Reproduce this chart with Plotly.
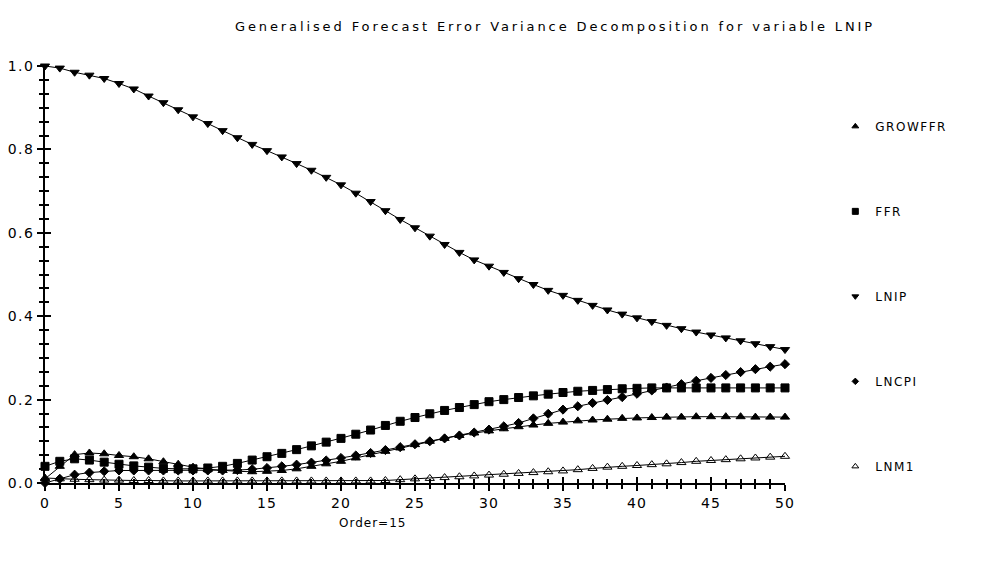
import plotly.graph_objects as go

horizon = list(range(0, 51))

growffr = [0.010, 0.040, 0.068, 0.072, 0.070, 0.066, 0.063, 0.058, 0.051, 0.045,
           0.038, 0.033, 0.030, 0.028, 0.027, 0.028, 0.030, 0.034, 0.040, 0.046,
           0.052, 0.060, 0.068, 0.076, 0.084, 0.092, 0.100, 0.107, 0.114, 0.120,
           0.125, 0.130, 0.135, 0.139, 0.143, 0.146, 0.149, 0.151, 0.153, 0.155,
           0.156, 0.157, 0.158, 0.158, 0.159, 0.159, 0.159, 0.159, 0.158, 0.158,
           0.158]

ffr = [0.040, 0.052, 0.058, 0.055, 0.050, 0.045, 0.041, 0.038, 0.035, 0.034,
       0.034, 0.036, 0.040, 0.047, 0.055, 0.063, 0.071, 0.080, 0.089, 0.098,
       0.107, 0.117, 0.127, 0.138, 0.148, 0.157, 0.166, 0.174, 0.181, 0.188,
       0.195, 0.200, 0.205, 0.209, 0.213, 0.217, 0.220, 0.222, 0.224, 0.226,
       0.227, 0.228, 0.228, 0.228, 0.228, 0.228, 0.228, 0.228, 0.228, 0.228,
       0.228]

lnip = [1.000, 0.995, 0.985, 0.978, 0.970, 0.958, 0.945, 0.928, 0.912, 0.895,
        0.878, 0.862, 0.845, 0.828, 0.812, 0.797, 0.782, 0.766, 0.750, 0.733,
        0.715, 0.695, 0.675, 0.653, 0.632, 0.612, 0.592, 0.572, 0.553, 0.535,
        0.520, 0.505, 0.490, 0.476, 0.462, 0.450, 0.438, 0.426, 0.415, 0.405,
        0.396, 0.387, 0.378, 0.370, 0.362, 0.355, 0.348, 0.341, 0.334, 0.327,
        0.320]

lncpi = [0.000, 0.010, 0.020, 0.025, 0.028, 0.030, 0.030, 0.030, 0.030, 0.030,
         0.030, 0.030, 0.030, 0.031, 0.033, 0.036, 0.040, 0.044, 0.049, 0.054,
         0.060, 0.066, 0.072, 0.079, 0.086, 0.093, 0.100, 0.107, 0.114, 0.121,
         0.128, 0.136, 0.144, 0.155, 0.166, 0.176, 0.184, 0.192, 0.199, 0.206,
         0.214, 0.222, 0.229, 0.237, 0.245, 0.252, 0.259, 0.266, 0.273, 0.279,
         0.285]

lnm1 = [0.012, 0.010, 0.009, 0.008, 0.007, 0.007, 0.006, 0.006, 0.005, 0.005,
        0.005, 0.005, 0.005, 0.005, 0.005, 0.005, 0.005, 0.005, 0.005, 0.005,
        0.005, 0.005, 0.005, 0.006, 0.008, 0.010, 0.011, 0.013, 0.015, 0.017,
        0.019, 0.021, 0.023, 0.025, 0.027, 0.029, 0.032, 0.035, 0.038, 0.040,
        0.042, 0.044, 0.046, 0.049, 0.052, 0.054, 0.056, 0.058, 0.060, 0.062,
        0.064]

series_names = ["GROWFFR", "FFR", "LNIP", "LNCPI", "LNM1"]
series_values = [growffr, ffr, lnip, lncpi, lnm1]
symbols = ["triangle-up", "square", "triangle-down", "diamond", "triangle-up-open"]
sizes = [8, 8, 8, 7, 8]

x_ticks = list(range(0, 51, 5))
y_ticks = [0.0, 0.2, 0.4, 0.6, 0.8, 1.0]
y_tick_text = ["0.0", "0.2", "0.4", "0.6", "0.8", "1.0"]

title_text = "Generalised Forecast Error Variance Decomposition for variable LNIP"
order_text = "Order=15"


def spaced(s, px):
    return '<span style="letter-spacing:%spx">%s</span>' % (px, s)


fig = go.Figure()

for name, vals, sym, sz in zip(series_names, series_values, symbols, sizes):
    fig.add_trace(go.Scatter(
        x=horizon, y=vals, mode="lines+markers", name=name,
        line=dict(color="black", width=1),
        marker=dict(symbol=sym, size=sz, color="black", line=dict(color="black", width=1)),
        showlegend=False, cliponaxis=False,
    ))

for name, sym, sz in zip(series_names, symbols, sizes):
    fig.add_trace(go.Scatter(
        x=[None], y=[None], mode="markers", name=spaced(name, 1.5), legendgroup=name,
        marker=dict(symbol=sym, size=sz - 2, color="black", line=dict(color="black", width=1)),
        showlegend=True,
    ))

# dummy trace creating the overlay axes used for the inner half of crossing ticks
fig.add_trace(go.Scatter(x=[None], y=[None], xaxis="x2", yaxis="y2", showlegend=False, hoverinfo="skip"))

tick_font = dict(family="DejaVu Sans", size=14, color="black")

fig.update_layout(
    width=1000, height=563,
    margin=dict(l=37, r=223, t=58, b=88),
    paper_bgcolor="white", plot_bgcolor="white",
    title=dict(text=spaced(title_text, 2.9),
               x=0.547, xanchor="center", y=0.968, yanchor="middle",
               font=dict(family="DejaVu Sans", size=13, color="black")),
    xaxis=dict(range=[0, 50], tickvals=x_ticks, ticktext=[spaced(str(v), 1) for v in x_ticks],
               ticks="outside", ticklen=6, tickwidth=1.5, automargin=False,
               tickcolor="black", showgrid=False, zeroline=False, showline=True,
               linecolor="black", linewidth=1.5, tickfont=tick_font,
               minor=dict(ticks="outside", ticklen=4, dtick=1, tickcolor="black", showgrid=False)),
    yaxis=dict(range=[0, 1.0], tickvals=y_ticks, ticktext=[spaced(t, 1.5) for t in y_tick_text],
               ticks="outside", automargin=False,
               ticklen=6, tickwidth=1.5, tickcolor="black", showgrid=False, zeroline=False,
               showline=True, linecolor="black", linewidth=1.5, tickfont=tick_font,
               minor=dict(ticks="outside", ticklen=4, dtick=0.2 / 6, tick0=0,
                          tickcolor="black", showgrid=False)),
    xaxis2=dict(range=[0, 50], overlaying="x", anchor="y2", side="bottom", tickvals=x_ticks,
                ticks="inside", ticklen=6, tickwidth=1.5, tickcolor="black", showticklabels=False,
                showgrid=False, zeroline=False, showline=False, automargin=False,
                minor=dict(ticks="inside", ticklen=4, dtick=1, tickcolor="black", showgrid=False)),
    yaxis2=dict(range=[0, 1.0], overlaying="y", anchor="x2", side="left", tickvals=y_ticks,
                ticks="inside", ticklen=6, tickwidth=1.5, tickcolor="black", showticklabels=False,
                showgrid=False, zeroline=False, showline=False, automargin=False,
                minor=dict(ticks="inside", ticklen=4, dtick=0.2 / 6, tick0=0,
                           tickcolor="black", showgrid=False)),
    legend=dict(x=1.068, xanchor="left", y=0.89, yanchor="top", tracegroupgap=66,
                font=dict(family="DejaVu Sans", size=12, color="black"),
                bgcolor="rgba(0,0,0,0)", traceorder="grouped"),
    annotations=[dict(text=spaced(order_text, 1), xref="paper", yref="paper", x=0.443, y=-0.096,
                      xanchor="center", yanchor="middle", showarrow=False,
                      font=dict(family="DejaVu Sans", size=12, color="black"))],
)

fig.write_html("out.html")
